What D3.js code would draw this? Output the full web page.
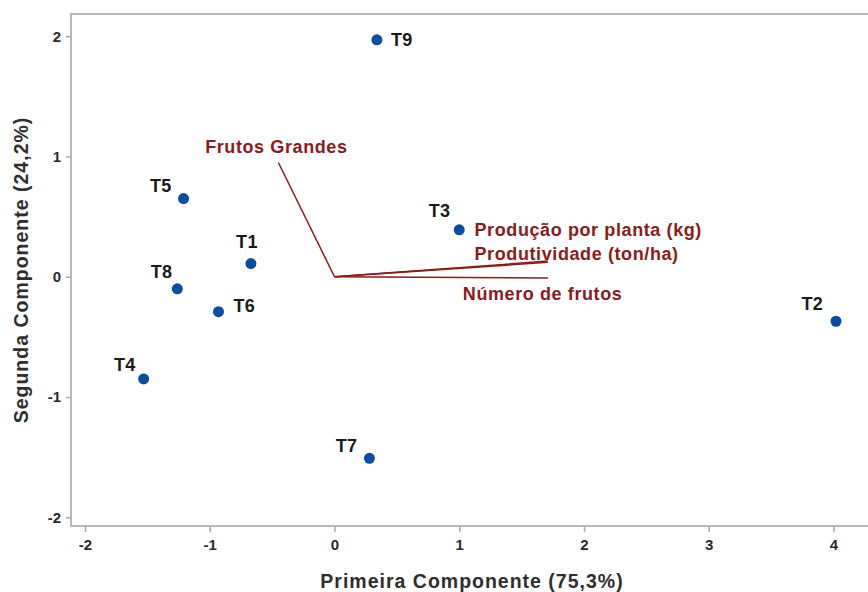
<!DOCTYPE html>
<html>
<head>
<meta charset="utf-8">
<script src="https://cdn.jsdelivr.net/npm/d3@7/dist/d3.min.js"></script>
<style>
  html, body { margin: 0; padding: 0; background: #fff; }
  svg { display: block; }
  text { font-family: "Liberation Sans", Arial, sans-serif; font-weight: bold; }
</style>
</head>
<body>
<svg id="chart" width="868" height="592"></svg>
<script>
// Treatment scores on the first two principal components
const treatments = ["T1", "T2", "T3", "T4", "T5", "T6", "T7", "T8", "T9"];
const pc1Scores = [-0.67, 4.02, 1.00, -1.53, -1.21, -0.93, 0.28, -1.26, 0.34];
const pc2Scores = [0.11, -0.37, 0.39, -0.85, 0.65, -0.29, -1.51, -0.10, 1.97];

// Variable loadings (biplot vectors)
const variables = ["Frutos Grandes", "Produção por planta (kg)", "Produtividade (ton/ha)", "Número de frutos"];
const loadX = [-0.45, 1.71, 1.71, 1.71];
const loadY = [0.95, 0.13, 0.12, -0.01];

const xTicks = [-2, -1, 0, 1, 2, 3, 4];
const yTicks = [-2, -1, 0, 1, 2];

(function draw() {
  const svg = d3.select("#chart");
  const frameLeft = 71, frameTop = 14, frameRight = 900, frameBottom = 526;

  const x = d3.scaleLinear().domain([-2, 4]).range([85, 833.5]);
  const y = d3.scaleLinear().domain([-2, 2]).range([517.3, 36.2]);

  // frame (right side runs past the page edge)
  svg.append("rect")
    .attr("x", frameLeft).attr("y", frameTop)
    .attr("width", frameRight - frameLeft).attr("height", frameBottom - frameTop)
    .attr("fill", "none").attr("stroke", "#b8b8b8").attr("stroke-width", 2);

  // axes
  const tickFmt = d => String(d);
  const xAxis = svg.append("g").attr("transform", `translate(0,${frameBottom})`)
    .call(d3.axisBottom(x).tickValues(xTicks).tickSize(6).tickPadding(7).tickFormat(tickFmt));
  const yAxis = svg.append("g").attr("transform", `translate(${frameLeft},0)`)
    .call(d3.axisLeft(y).tickValues(yTicks).tickSize(5).tickPadding(5).tickFormat(tickFmt));
  [xAxis, yAxis].forEach(g => {
    g.select(".domain").remove();
    g.selectAll(".tick line").attr("stroke", "#a8a8a8").attr("stroke-width", 1.5);
    g.selectAll(".tick text").attr("fill", "#2a2a2a")
      .style("font-family", "'Liberation Sans', Arial, sans-serif")
      .style("font-size", "15px").style("font-weight", "bold");
  });

  // axis titles
  svg.append("text")
    .attr("x", 472).attr("y", 588)
    .attr("text-anchor", "middle")
    .style("font-size", "19.5px").style("letter-spacing", "1px").attr("fill", "#2e2e2e")
    .text("Primeira Componente (75,3%)");
  svg.append("text")
    .attr("transform", "translate(27.5,270) rotate(-90)")
    .attr("text-anchor", "middle")
    .style("font-size", "19.5px").style("letter-spacing", "1px").attr("fill", "#2e2e2e")
    .text("Segunda Componente (24,2%)");

  // loading vectors
  const vecColor = "#8b1a1a";
  const vg = svg.append("g");
  variables.forEach((v, i) => {
    vg.append("line")
      .attr("x1", x(0)).attr("y1", y(0))
      .attr("x2", x(loadX[i])).attr("y2", y(loadY[i]))
      .attr("stroke", vecColor).attr("stroke-width", 1.5);
  });
  const varLabelPos = [
    { dx: -2, dy: -9.5, anchor: "middle" },
    { dx: -73.3, dy: -25, anchor: "start" },
    { dx: -73.3, dy: -2.5, anchor: "start" },
    { dx: -85, dy: 21.7, anchor: "start" }
  ];
  variables.forEach((v, i) => {
    const p = varLabelPos[i];
    vg.append("text")
      .attr("x", x(loadX[i]) + p.dx).attr("y", y(loadY[i]) + p.dy)
      .attr("text-anchor", p.anchor)
      .style("font-size", "18px").style("letter-spacing", "0.6px")
      .attr("fill", vecColor)
      .text(v);
  });

  // treatment points
  const labelPos = {
    T1: { dx: -4, dy: -16, anchor: "middle" },
    T2: { dx: -13, dy: -11, anchor: "end" },
    T3: { dx: -9, dy: -13, anchor: "end" },
    T4: { dx: -8, dy: -7.7, anchor: "end" },
    T5: { dx: -12, dy: -7, anchor: "end" },
    T6: { dx: 15, dy: 0, anchor: "start" },
    T7: { dx: -12, dy: -6, anchor: "end" },
    T8: { dx: -5, dy: -10.7, anchor: "end" },
    T9: { dx: 14, dy: 6.5, anchor: "start" }
  };
  const pg = svg.append("g");
  treatments.forEach((t, i) => {
    const cx = x(pc1Scores[i]), cy = y(pc2Scores[i]);
    pg.append("circle").attr("cx", cx).attr("cy", cy).attr("r", 5.5).attr("fill", "#0b4da2");
    const p = labelPos[t];
    pg.append("text")
      .attr("x", cx + p.dx).attr("y", cy + p.dy)
      .attr("text-anchor", p.anchor)
      .style("font-size", "18px").style("letter-spacing", "0.3px").attr("fill", "#1a1a1a")
      .text(t);
  });
})();
</script>
</body>
</html>
